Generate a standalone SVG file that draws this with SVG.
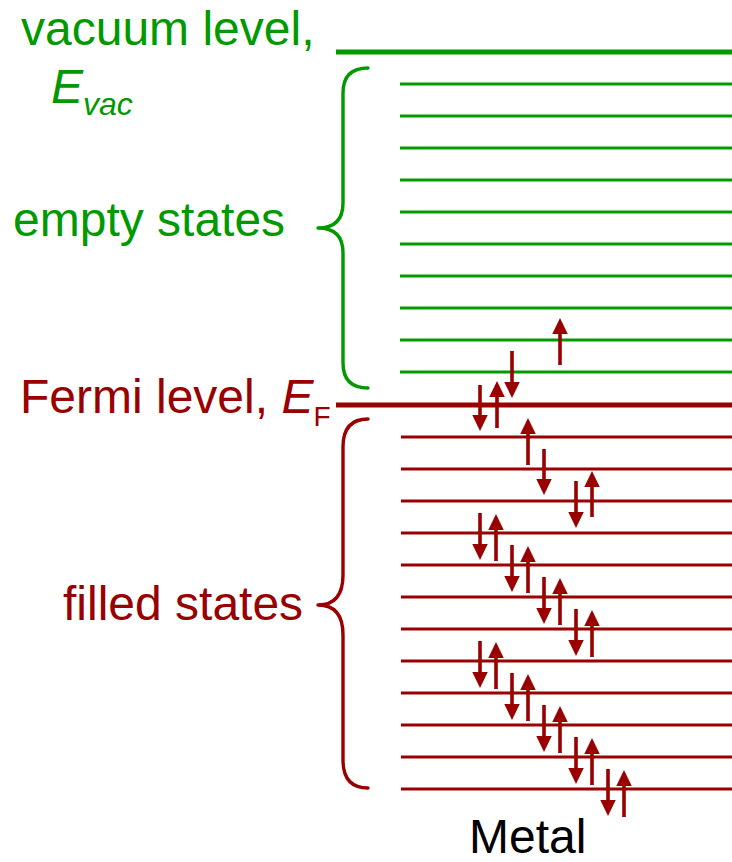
<svg xmlns="http://www.w3.org/2000/svg" width="732" height="862" viewBox="0 0 732 862">
  <style>
    .lbl { font-family: "Liberation Sans", Arial, sans-serif; font-size: 48px; }
    .g { fill: #009a00; }
    .r { fill: #990000; }
    .lvl-g { stroke: #009a00; stroke-width: 3.2; }
    .lvl-r { stroke: #990000; stroke-width: 3.2; }
    .brace { fill: none; stroke-width: 3.4; stroke-linecap: round; stroke-linejoin: round; }
    .spin { stroke: #990000; stroke-width: 3.6; marker-end: url(#head); }
  </style>
  <defs>
    <marker id="head" markerUnits="userSpaceOnUse" markerWidth="17" markerHeight="16" refX="1" refY="7.75" orient="auto">
      <path d="M0,0 L16,7.75 L0,15.5 z" fill="#990000"/>
    </marker>
  </defs>

  <!-- energy levels -->
  <g id="levels">
    <line x1="336" y1="52" x2="732" y2="52" stroke="#009a00" stroke-width="5"/>
    <g class="lvl-g">
      <line x1="400" y1="84" x2="732" y2="84"/>
      <line x1="400" y1="116" x2="732" y2="116"/>
      <line x1="400" y1="148" x2="732" y2="148"/>
      <line x1="400" y1="180" x2="732" y2="180"/>
      <line x1="400" y1="212" x2="732" y2="212"/>
      <line x1="400" y1="244" x2="732" y2="244"/>
      <line x1="400" y1="276" x2="732" y2="276"/>
      <line x1="400" y1="308" x2="732" y2="308"/>
      <line x1="400" y1="340" x2="732" y2="340"/>
      <line x1="400" y1="372" x2="732" y2="372"/>
    </g>
    <line x1="336" y1="405" x2="732" y2="405" stroke="#990000" stroke-width="5"/>
    <g class="lvl-r">
      <line x1="401" y1="437" x2="732" y2="437"/>
      <line x1="401" y1="469" x2="732" y2="469"/>
      <line x1="401" y1="501" x2="732" y2="501"/>
      <line x1="401" y1="533" x2="732" y2="533"/>
      <line x1="401" y1="565" x2="732" y2="565"/>
      <line x1="401" y1="597" x2="732" y2="597"/>
      <line x1="401" y1="629" x2="732" y2="629"/>
      <line x1="401" y1="661" x2="732" y2="661"/>
      <line x1="401" y1="693" x2="732" y2="693"/>
      <line x1="401" y1="725" x2="732" y2="725"/>
      <line x1="401" y1="757" x2="732" y2="757"/>
      <line x1="401" y1="789" x2="732" y2="789"/>
    </g>
  </g>

  <!-- curly braces -->
  <g id="brace-empty">
    <path class="brace" stroke="#009a00" d="M368,68 Q343,68 343,93 L343,203 Q343,228 318,228 Q343,228 343,253 L343,363 Q343,388 368,388"/>
  </g>
  <g id="brace-filled">
    <path class="brace" stroke="#990000" d="M368,419 Q343,419 343,447 L343,575 Q343,605 318,605 Q343,605 343,635 L343,760 Q343,788 368,788"/>
  </g>

  <!-- electron spins -->
  <g id="spins" class="spin">
    <!-- up -->
    <line x1="560" y1="365" x2="560" y2="333"/>
    <line x1="497" y1="428" x2="497" y2="396"/>
    <line x1="528" y1="465" x2="528" y2="433"/>
    <line x1="592" y1="517" x2="592" y2="486"/>
    <line x1="496" y1="561" x2="496" y2="529"/>
    <line x1="528" y1="593" x2="528" y2="561"/>
    <line x1="560" y1="625" x2="560" y2="593"/>
    <line x1="592" y1="657" x2="592" y2="625"/>
    <line x1="496" y1="689" x2="496" y2="657"/>
    <line x1="528" y1="721" x2="528" y2="689"/>
    <line x1="560" y1="753" x2="560" y2="721"/>
    <line x1="592" y1="785" x2="592" y2="753"/>
    <line x1="624" y1="817" x2="624" y2="785"/>
    <!-- down -->
    <line x1="512" y1="351" x2="512" y2="383"/>
    <line x1="480" y1="385" x2="480" y2="416"/>
    <line x1="544" y1="449" x2="544" y2="480"/>
    <line x1="576" y1="481" x2="576" y2="513"/>
    <line x1="480" y1="513" x2="480" y2="545"/>
    <line x1="512" y1="545" x2="512" y2="577"/>
    <line x1="544" y1="577" x2="544" y2="609"/>
    <line x1="576" y1="609" x2="576" y2="641"/>
    <line x1="480" y1="641" x2="480" y2="673"/>
    <line x1="512" y1="673" x2="512" y2="705"/>
    <line x1="544" y1="705" x2="544" y2="737"/>
    <line x1="576" y1="737" x2="576" y2="769"/>
    <line x1="608" y1="769" x2="608" y2="801"/>
  </g>

  <!-- labels -->
  <g id="label-vacuum">
    <text class="lbl g" x="21" y="45">vacuum level,</text>
    <text class="lbl g" x="51" y="103" font-style="italic">E<tspan font-size="32" dy="12">vac</tspan></text>
  </g>
  <g id="label-empty">
    <text class="lbl g" x="13" y="236">empty states</text>
  </g>
  <g id="label-fermi">
    <text class="lbl r" x="20" y="413">Fermi level, <tspan font-style="italic">E</tspan><tspan font-size="28" dy="13">F</tspan></text>
  </g>
  <g id="label-filled">
    <text class="lbl r" x="63" y="620">filled states</text>
  </g>
  <g id="label-metal">
    <text class="lbl" x="469" y="853" font-size="44" fill="#000">Metal</text>
  </g>
</svg>
